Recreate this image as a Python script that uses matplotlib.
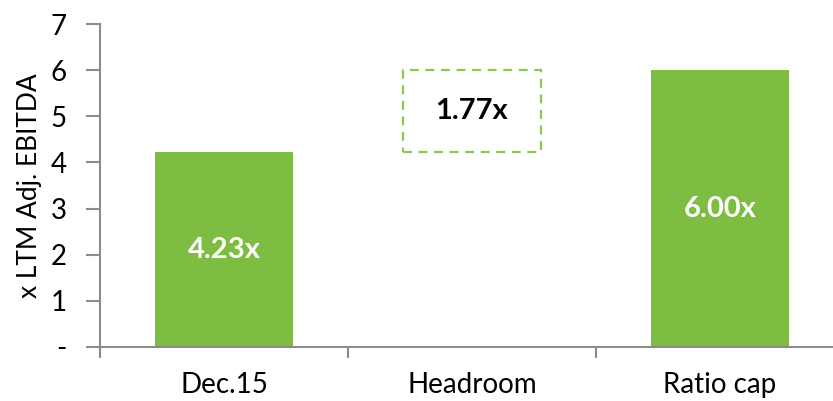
import matplotlib.pyplot as plt
from matplotlib.patches import Rectangle

# waterfall: current leverage, headroom, covenant cap
categories = ["Dec.15", "Headroom", "Ratio cap"]
current = 4.23
cap = 6.00
headroom = 1.77
labels = ["4.23x", "1.77x", "6.00x"]

green = "#7dbd42"
axis_grey = "#8c8c8c"

plt.rcParams["font.family"] = ["Lato", "DejaVu Sans"]

fig = plt.figure(figsize=(8.33, 4.01), dpi=100)
ax = fig.add_axes([0.12, 0.1347, 0.893, 0.8053])

x = range(len(categories))
w = 0.556

ax.bar(0, current, width=w, color=green, zorder=2)
ax.bar(2, cap, width=w, color=green, zorder=2)

# floating headroom box, dashed outline
ax.add_patch(Rectangle((1 - w / 2, current), w, headroom, facecolor="white",
                       edgecolor="#8cc850", linewidth=1.6, linestyle=(0, (4, 3)),
                       zorder=2))

ax.text(0, 2.1, labels[0], ha="center", va="center", color="white",
        fontsize=21, fontweight="bold")
ax.text(1, current + headroom / 2, labels[1], ha="center", va="center",
        color="black", fontsize=21, fontweight="bold")
ax.text(2, 3.0, labels[2], ha="center", va="center", color="white",
        fontsize=21, fontweight="bold")

ax.set_xlim(-0.5, 2.5)
ax.set_ylim(0, 7)
ax.set_yticks(range(8))
ax.set_yticklabels(["-"] + [str(i) for i in range(1, 8)])
ax.set_xticks(list(x))
ax.set_xticklabels(categories)
ax.set_xticks([-0.5, 0.5, 1.5, 2.5], minor=True)

ax.set_ylabel("x LTM Adj. EBITDA", fontsize=19, labelpad=6)

for s in ["top", "right"]:
    ax.spines[s].set_visible(False)
for s in ["left", "bottom"]:
    ax.spines[s].set_color(axis_grey)
    ax.spines[s].set_linewidth(1.5)

ax.tick_params(axis="y", length=10, width=1.5, color=axis_grey, labelsize=20, pad=14)
ax.tick_params(axis="x", which="major", length=0, labelsize=20, pad=18)
ax.tick_params(axis="x", which="minor", length=8, width=1.5, color=axis_grey)

fig.savefig("out.png", dpi=100)
